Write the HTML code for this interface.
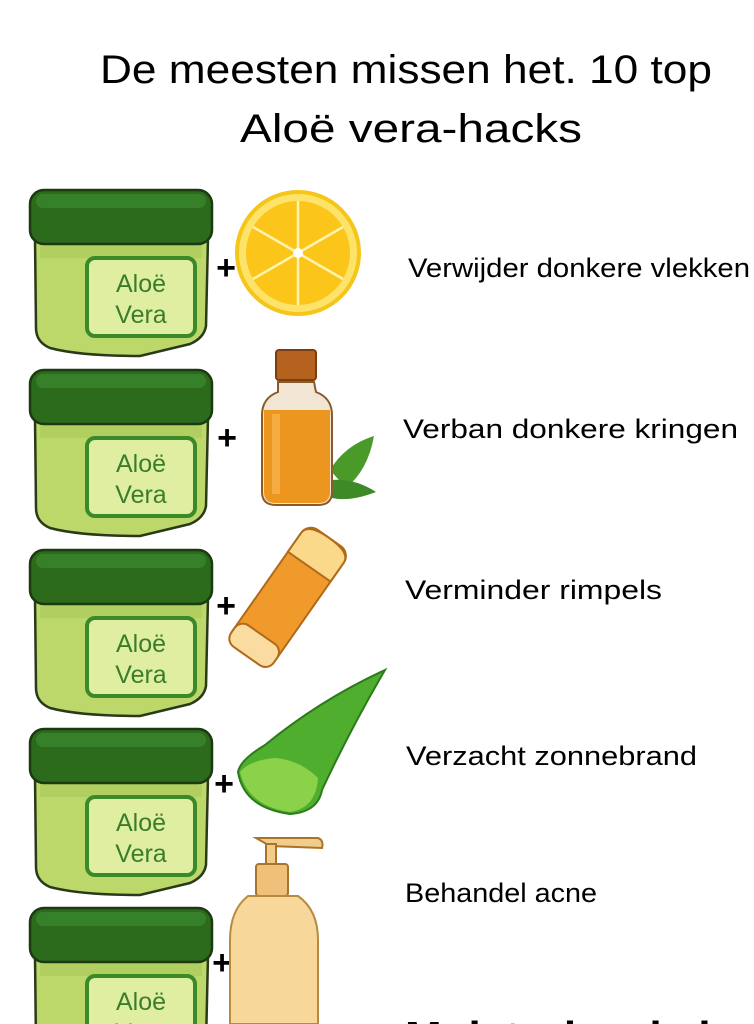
<!DOCTYPE html>
<html><head><meta charset="utf-8"><style>
html,body{margin:0;padding:0;background:#fff;width:754px;height:1024px;overflow:hidden}
svg{display:block}
</style></head><body>
<svg width="754" height="1024" viewBox="0 0 754 1024" xmlns="http://www.w3.org/2000/svg" font-family="Liberation Sans, sans-serif">
<defs>
<g id="jar">
  <path d="M35 50 L208 50 L206 138 Q204 150 190 156 L140 168 Q80 168 50 160 Q36 154 36 140 Z" fill="#bcd76a" stroke="#2a3a18" stroke-width="2.5"/>
  <path d="M40 56 L202 56 L202 70 L40 70 Z" fill="#a9c95a" opacity="0.6"/>
  <rect x="30" y="2" width="182" height="54" rx="14" fill="#2c6a1c" stroke="#1c3a12" stroke-width="2.5"/>
  <rect x="36" y="6" width="170" height="14" rx="7" fill="#37802a"/>
  <rect x="87" y="70" width="108" height="78" rx="8" fill="#e0eea2" stroke="#3a8a2a" stroke-width="4"/>
  <text x="141" y="104" font-size="25" fill="#3a7d2a" text-anchor="middle">Aloë</text>
  <text x="141" y="135" font-size="25" fill="#3a7d2a" text-anchor="middle">Vera</text>
</g>
</defs>
<text x="100" y="83" font-size="40" fill="#000" textLength="612" lengthAdjust="spacingAndGlyphs">De meesten missen het. 10 top</text>
<text x="240" y="142" font-size="40" fill="#000" textLength="342" lengthAdjust="spacingAndGlyphs">Aloë vera-hacks</text>

<use href="#jar" y="188"/>
<use href="#jar" y="368"/>
<use href="#jar" y="548"/>
<use href="#jar" y="727"/>
<use href="#jar" y="906"/>

<g font-size="34" font-weight="bold" fill="#000" text-anchor="middle">
<text x="226" y="279">+</text>
<text x="227" y="449">+</text>
<text x="226" y="617">+</text>
<text x="224" y="795">+</text>
<text x="222" y="974">+</text>
</g>

<!-- lemon -->
<circle cx="298" cy="253" r="61" fill="#fde36a" stroke="#f5c518" stroke-width="4"/>
<circle cx="298" cy="253" r="52" fill="#fbc51a"/>
<g stroke="#fff3b0" stroke-width="2.5">
<line x1="298" y1="253" x2="298" y2="201"/><line x1="298" y1="253" x2="343" y2="227"/>
<line x1="298" y1="253" x2="343" y2="279"/><line x1="298" y1="253" x2="298" y2="305"/>
<line x1="298" y1="253" x2="253" y2="279"/><line x1="298" y1="253" x2="253" y2="227"/>
</g>
<circle cx="298" cy="253" r="5" fill="#fff"/>

<!-- oil bottle -->
<path d="M330 470 Q345 445 374 436 Q368 470 346 488 Z" fill="#4a9a2a"/>
<path d="M330 480 Q355 478 376 492 Q350 502 332 498 Z" fill="#3e8a26"/>
<rect x="276" y="350" width="40" height="30" rx="3" fill="#b5621e" stroke="#7a3e10" stroke-width="2"/>
<path d="M278 382 L314 382 L316 392 Q332 398 332 415 L332 492 Q332 505 318 505 L276 505 Q262 505 262 492 L262 415 Q262 398 278 392 Z" fill="#f1e6d4" stroke="#8a5a2a" stroke-width="2"/>
<path d="M264 410 L330 410 L330 492 Q330 503 318 503 L276 503 Q264 503 264 492 Z" fill="#ec9620"/>
<rect x="272" y="414" width="8" height="80" fill="#f7b24a" opacity="0.8"/>

<!-- lipstick -->
<g transform="rotate(35 288 597)">
<rect x="262" y="525" width="52" height="144" rx="12" fill="#f19a2c" stroke="#b06a1a" stroke-width="2"/>
<path d="M262 548 L262 537 Q262 525 288 525 Q314 525 314 537 L314 560 L262 560 Z" fill="#fbd98a" stroke="#b06a1a" stroke-width="2"/>
<rect x="262" y="643" width="52" height="26" rx="10" fill="#fbdca0" stroke="#b06a1a" stroke-width="2"/>
</g>

<!-- aloe leaf -->
<path d="M385 670 Q320 700 265 745 Q240 760 238 772 Q244 808 290 814 Q318 812 322 790 Q350 730 385 670 Z" fill="#4fae2e" stroke="#2d7a1a" stroke-width="2"/>
<path d="M240 772 Q250 760 275 758 Q300 760 318 778 Q316 808 290 812 Q248 806 240 772 Z" fill="#8cd14a"/>

<!-- pump bottle -->
<path d="M256 838 L318 838 Q324 840 322 848 L270 846 Z" fill="#f2cc8a" stroke="#a8742a" stroke-width="2"/>
<rect x="266" y="844" width="10" height="22" fill="#f2cc8a" stroke="#a8742a" stroke-width="2"/>
<rect x="256" y="864" width="32" height="32" rx="3" fill="#eec07a" stroke="#a8742a" stroke-width="2"/>
<path d="M248 896 L298 896 Q318 910 318 940 L318 1024 L230 1024 L230 940 Q230 910 248 896 Z" fill="#f8d79a" stroke="#b88a40" stroke-width="2"/>

<g font-size="27" fill="#000" lengthAdjust="spacingAndGlyphs">
<text x="408" y="277" textLength="342" lengthAdjust="spacingAndGlyphs">Verwijder donkere vlekken</text>
<text x="403" y="438" textLength="335" lengthAdjust="spacingAndGlyphs">Verban donkere kringen</text>
<text x="405" y="599" textLength="257" lengthAdjust="spacingAndGlyphs">Verminder rimpels</text>
<text x="406" y="765" textLength="291" lengthAdjust="spacingAndGlyphs">Verzacht zonnebrand</text>
<text x="405" y="902" textLength="192" lengthAdjust="spacingAndGlyphs">Behandel acne</text>
</g>
<text x="405" y="1052" font-size="44" font-weight="bold" fill="#000">Moisturize de huid</text>
</svg>
</body></html>
